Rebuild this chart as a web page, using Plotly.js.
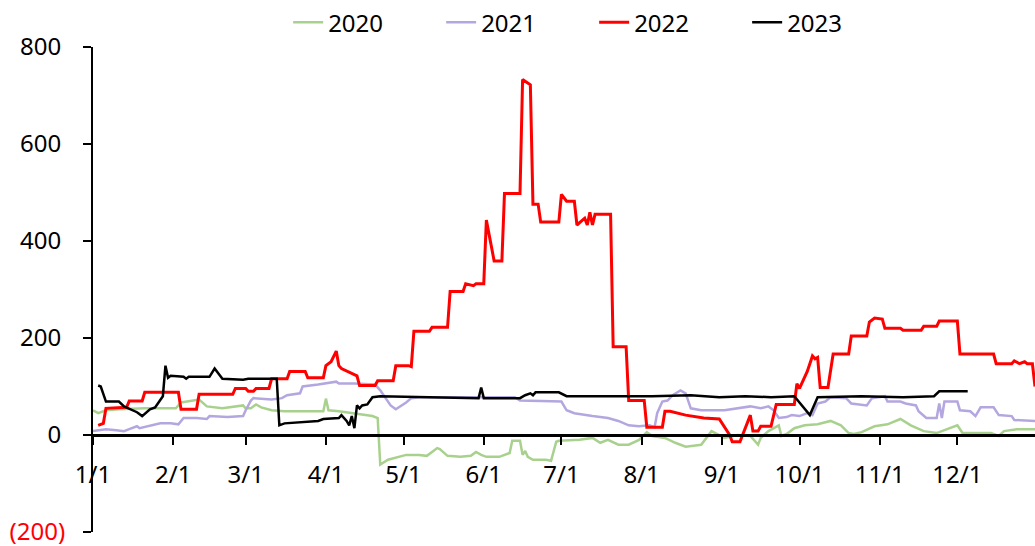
<!DOCTYPE html>
<html>
<head>
<meta charset="utf-8">
<script src="https://cdn.plot.ly/plotly-3.0.1.min.js"></script>
<style>html,body{margin:0;padding:0;background:#fff;}#chart{width:1035px;height:546px;}</style>
</head>
<body>
<div id="chart"></div>
<script>
// Series names
const seriesNames = ['2020', '2021', '2022', '2023'];

// 2020
const dates2020 = ['01-01','01-03','01-06','01-11','01-21','02-02','02-04','02-08','02-11','02-14','02-20','02-28','03-01','03-03','03-05','03-07','03-11','03-16','03-25','03-31','04-01','04-02','04-06','04-11','04-16','04-19','04-21','04-22','04-25','04-29','05-02','05-07','05-10','05-12','05-14','05-15','05-18','05-23','05-27','05-29','05-31','06-02','06-07','06-11','06-12','06-15','06-16','06-17','06-18','06-20','06-25','06-27','06-29','06-30','07-08','07-13','07-16','07-19','07-23','07-27','07-31','08-03','08-05','08-10','08-14','08-18','08-24','08-28','08-31','09-02','09-07','09-12','09-15','09-16','09-19','09-23','09-24','09-26','09-29','10-03','10-08','10-13','10-17','10-20','10-22','10-25','10-30','11-04','11-09','11-13','11-18','11-23','12-01','12-03','12-14','12-17','12-19','12-24','12-31'];
const values2020 = [51,45,51,53,55,55,67,71,73,59,55,61,55,55,63,57,51,49,49,49,75,51,49,45,41,39,35,-61,-51,-45,-41,-41,-43,-35,-27,-29,-43,-45,-43,-35,-41,-45,-45,-37,-12,-12,-41,-33,-45,-51,-51,-53,-14,-12,-10,-6,-16,-10,-20,-20,-10,6,-2,-6,-16,-24,-20,8,0,-6,0,-2,-20,-6,8,20,-2,2,14,20,22,29,20,4,2,6,18,22,33,20,8,4,20,4,4,-2,8,12,12];

// 2021
const dates2021 = ['01-01','01-03','01-06','01-10','01-13','01-15','01-18','01-19','01-24','01-27','01-31','02-03','02-05','02-10','02-14','02-15','02-22','02-28','03-01','03-03','03-04','03-11','03-15','03-17','03-22','03-23','03-29','04-05','04-06','04-12','04-20','04-22','04-26','04-28','05-02','05-04','05-07','06-13','06-15','06-27','07-01','07-03','07-06','07-13','07-19','07-23','07-27','07-31','08-04','08-06','08-07','08-09','08-11','08-13','08-16','08-18','08-20','08-24','09-02','09-12','09-16','09-19','09-21','09-23','09-26','09-28','10-01','10-04','10-06','10-08','10-11','10-13','10-19','10-21','10-27','10-29','11-03','11-04','11-09','11-11','11-15','11-16','11-19','11-23','11-24','11-25','11-26','12-01','12-02','12-06','12-08','12-10','12-15','12-17','12-22','12-23','12-31'];
const values2021 = [8,10,12,10,8,12,18,14,20,24,24,22,35,35,33,39,37,39,51,71,76,73,76,82,86,100,104,110,106,106,104,92,61,53,67,76,78,78,71,69,69,51,45,39,35,29,20,18,20,16,45,69,71,82,92,86,55,51,51,59,55,59,51,35,37,41,39,45,41,65,69,78,76,65,61,76,80,69,69,65,61,49,35,35,65,35,69,69,51,49,39,57,57,41,39,31,29];

// 2022
const dates2022 = ['01-03','01-05','01-06','01-14','01-15','01-20','01-21','02-03','02-04','02-10','02-11','02-24','02-25','03-01','03-02','03-04','03-05','03-10','03-11','03-17','03-18','03-24','03-25','03-31','04-01','04-03','04-05','04-06','04-07','04-13','04-14','04-20','04-21','04-27','04-28','05-03','05-04','05-05','05-11','05-12','05-18','05-19','05-24','05-25','05-28','05-29','06-01','06-02','06-05','06-08','06-09','06-15','06-16','06-19','06-20','06-22','06-23','06-30','07-01','07-03','07-06','07-07','07-10','07-11','07-12','07-13','07-14','07-20','07-21','07-26','07-27','08-02','08-03','08-09','08-10','08-12','08-18','08-25','08-31','09-04','09-05','09-08','09-12','09-13','09-15','09-16','09-20','09-22','09-29','09-30','10-01','10-04','10-06','10-07','10-08','10-09','10-12','10-14','10-20','10-21','10-27','10-28','10-30','11-02','11-03','11-09','11-10','11-17','11-18','11-23','11-24','12-01','12-02','12-15','12-16','12-22','12-23','12-25','12-27','12-28','12-30','12-31'];
const values2022 = [20,24,55,57,70,70,88,88,53,53,84,84,96,96,90,90,96,96,116,116,131,131,118,118,143,151,173,143,137,122,102,102,112,112,143,143,141,214,214,222,222,296,296,312,308,312,312,443,359,359,498,498,733,722,476,476,439,439,496,482,482,433,447,433,459,433,455,455,182,182,71,71,16,16,49,49,41,35,33,0,-14,-14,41,8,8,18,18,63,63,106,96,131,163,157,160,98,98,167,167,204,204,233,241,239,220,220,216,216,224,224,235,235,167,167,147,147,153,147,151,147,147,100];

// 2023
const dates2023 = ['01-03','01-04','01-06','01-11','01-13','01-18','01-20','01-23','01-25','01-27','01-28','01-29','01-30','01-31','02-05','02-06','02-07','02-15','02-17','02-20','02-28','03-02','03-13','03-14','03-16','03-29','03-31','04-06','04-07','04-09','04-10','04-11','04-12','04-13','04-14','04-15','04-17','04-19','04-22','05-30','05-31','06-01','06-15','06-17','06-19','06-20','06-21','06-30','07-03','07-20','08-05','08-20','08-31','09-10','09-20','09-29','10-05','10-08','10-25','11-10','11-22','11-24','12-05'];
const values2023 = [102,100,69,69,59,47,39,53,57,71,80,143,118,122,120,116,120,120,137,116,114,116,116,20,24,29,33,35,41,29,20,39,14,61,55,61,63,78,80,76,98,76,76,82,86,82,88,88,80,80,80,82,78,80,78,80,41,78,80,78,80,90,90];

// Axis ticks
const monthTicks = ['01-01','02-01','03-01','04-01','05-01','06-01','07-01','08-01','09-01','10-01','11-01','12-01'];
const monthLabels = ['1/1','2/1','3/1','4/1','5/1','6/1','7/1','8/1','9/1','10/1','11/1','12/1'];
const yTicks = [-200, 0, 200, 400, 600, 800];
const yLabels = ['<span style="color:#FF0000">(200)</span>', '0\u2009', '200\u2009', '400\u2009', '600\u2009', '800\u2009'];

const BASE = '2001-';
const toDate = arr => arr.map(d => BASE + d);

const allDates = [dates2020, dates2021, dates2022, dates2023];
const allValues = [values2020, values2021, values2022, values2023];
const colors = ['#A9D18E', '#B4A7E0', '#FF0000', '#000000'];
const widths = [2.5, 2.5, 3, 2.5];

const traces = seriesNames.map((name, i) => ({
  type: 'scatter',
  mode: 'lines',
  name: name,
  x: toDate(allDates[i]),
  y: allValues[i],
  line: { color: colors[i], width: widths[i] },
  hoverinfo: 'x+y+name'
}));

const font = { family: 'Noto Sans, Open Sans, sans-serif', size: 24, color: '#000' };

const layout = {
  width: 1035,
  height: 546,
  margin: { l: 93, r: 0, t: 44, b: 14 },
  paper_bgcolor: '#fff',
  plot_bgcolor: '#fff',
  font: font,
  showlegend: true,
  legend: {
    orientation: 'h',
    x: 0.532, xanchor: 'center',
    y: 1.05, yanchor: 'middle',
    font: font,
    bgcolor: 'rgba(0,0,0,0)',
    entrywidth: 108,
    entrywidthmode: 'pixels'
  },
  xaxis: {
    type: 'date',
    range: [BASE + '01-01', BASE + '12-31'],
    tickvals: toDate(monthTicks),
    ticktext: monthLabels,
    showgrid: false,
    zeroline: false,
    showline: true,
    linecolor: '#000',
    linewidth: 2.5,
    ticks: 'outside',
    ticklen: 8,
    tickwidth: 2,
    tickcolor: '#000',
    anchor: 'free',
    position: 0.2,
    ticklabelstandoff: 10,
    ticklabeloverflow: 'allow',
    tickfont: font
  },
  yaxis: {
    range: [-200, 800],
    tickvals: yTicks,
    ticktext: yLabels,
    showgrid: false,
    zeroline: false,
    showline: true,
    linecolor: '#000',
    linewidth: 2,
    ticks: 'outside',
    ticklen: 8,
    tickwidth: 2,
    tickcolor: '#000',
    ticklabelstandoff: 13,
    ticklabeloverflow: 'allow',
    tickfont: font
  }
};

Plotly.newPlot('chart', traces, layout, { displayModeBar: false, staticPlot: true });
</script>
</body>
</html>
